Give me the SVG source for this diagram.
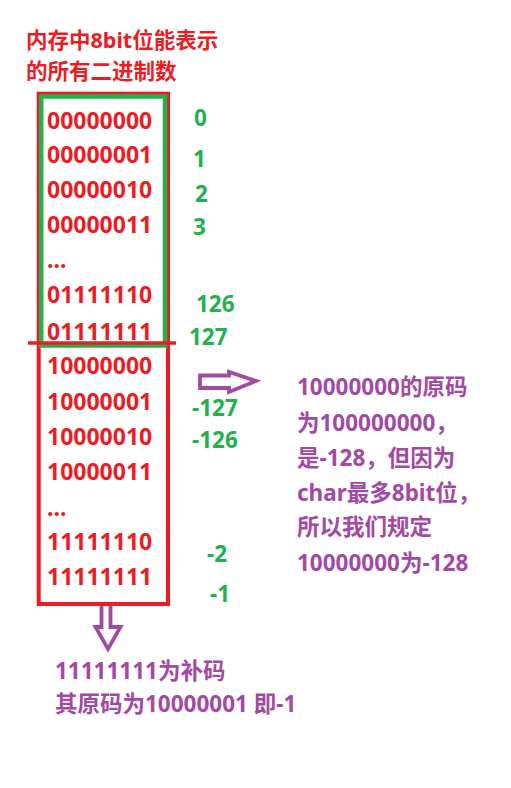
<svg xmlns="http://www.w3.org/2000/svg" width="511" height="788" viewBox="0 0 511 788">
<style>
text{font-family:"Noto Sans","Noto Sans CJK SC",sans-serif;font-weight:bold}
.h{fill:#ed1c24;font-size:21.5px}
.r{fill:#ed1c24;font-size:23px}
.g{fill:#22b14c;font-size:22.5px}
.p{fill:#a349a4;font-size:22.5px}
.arrow{fill:#fff;stroke:#a349a4;stroke-width:3.8;stroke-linejoin:miter}
</style>
<rect width="511" height="788" fill="#fff"/>
<g id="title">
<text class="h" x="26" y="47.5">内存中8bit位能表示</text>
<text class="h" x="26" y="79">的所有二进制数</text>
</g>
<g id="box">
<rect x="38.7" y="93.7" width="129.3" height="510.3" fill="none" stroke="#ed1c24" stroke-width="4"/>
<rect x="41.2" y="96.5" width="123.8" height="249" fill="none" stroke="#22b14c" stroke-width="4.5"/>
</g>
<g id="connectors">
<line x1="28" y1="343" x2="176" y2="343" stroke="#ed1c24" stroke-width="3.5"/>
<path class="arrow" d="M200 375.5 H229 V372 L256 381 L229 392 V388 H200 Z"/>
<path class="arrow" d="M101.5 606 V627 H95.5 L108 649 L120.5 627 H110.5 V606"/>
</g>
<g id="binary">
<text class="r" x="47" y="129">00000000</text>
<text class="r" x="47" y="163">00000001</text>
<text class="r" x="47" y="198">00000010</text>
<text class="r" x="47" y="233">00000011</text>
<text class="r" x="47" y="268">...</text>
<text class="r" x="47" y="303">01111110</text>
<text class="r" x="47" y="340">01111111</text>
<text class="r" x="47" y="374">10000000</text>
<text class="r" x="47" y="410">10000001</text>
<text class="r" x="47" y="445">10000010</text>
<text class="r" x="47" y="480">10000011</text>
<text class="r" x="47" y="516">...</text>
<text class="r" x="47" y="550">11111110</text>
<text class="r" x="47" y="585">11111111</text>
</g>
<g id="values">
<text class="g" x="194" y="126">0</text>
<text class="g" x="193" y="167">1</text>
<text class="g" x="195" y="202">2</text>
<text class="g" x="193" y="235">3</text>
<text class="g" x="196" y="312">126</text>
<text class="g" x="189" y="345">127</text>
<text class="g" x="192" y="416">-127</text>
<text class="g" x="192" y="448">-126</text>
<text class="g" x="207" y="562">-2</text>
<text class="g" x="210" y="602">-1</text>
</g>
<g id="note-right">
<text class="p" x="297" y="395">10000000的原码</text>
<text class="p" x="297" y="431">为100000000，</text>
<text class="p" x="297" y="466">是-128，但因为</text>
<text class="p" x="297" y="501">char最多8bit位，</text>
<text class="p" x="297" y="535">所以我们规定</text>
<text class="p" x="297" y="571">10000000为-128</text>
</g>
<g id="note-bottom">
<text class="p" x="55" y="679">11111111为补码</text>
<text class="p" x="55" y="712">其原码为10000001 即-1</text>
</g>
</svg>
